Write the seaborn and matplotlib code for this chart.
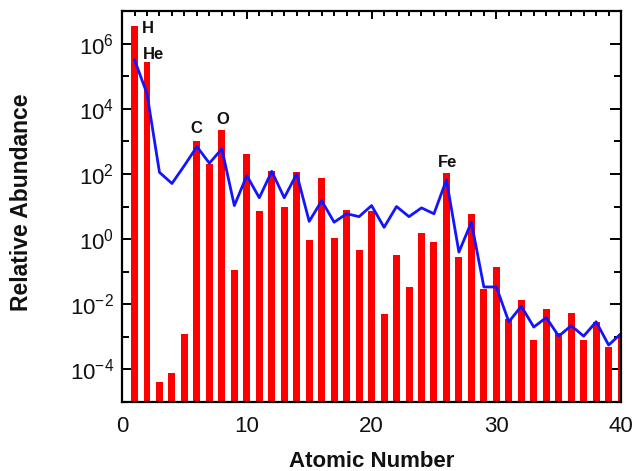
import matplotlib
matplotlib.use("Agg")
import matplotlib.pyplot as plt
import matplotlib.ticker as mticker
from matplotlib import font_manager
import seaborn as sns
import pandas as pd

# Atomic numbers
atomic_number = list(range(1, 41))

# Red bars: relative abundance
bar_abundance = [3.5e6, 2.8e5, 4.0e-5, 7.9e-5, 1.2e-3, 1.0e3, 2.0e2, 2.2e3, 0.115, 4.1e2,
                 7.2, 1.26e2, 9.5, 1.12e2, 0.95, 74, 1.1, 7.9, 0.45, 7.2,
                 5.0e-3, 0.33, 0.034, 1.5, 0.79, 105, 0.28, 5.8, 0.030, 0.138,
                 3.5e-3, 0.014, 7.9e-4, 7.4e-3, 1.35e-3, 5.5e-3, 7.9e-4, 2.9e-3, 4.9e-4, 1.26e-3]

# Blue line: relative abundance (second source)
line_abundance = [3.2e5, 2.9e4, 112, 51, 182, 690, 214, 590, 10.7, 89,
                  18.6, 120, 18.6, 100, 3.5, 15, 3.3, 6.0, 4.9, 10.7,
                  2.3, 10, 4.9, 9.1, 6.0, 66, 0.40, 3.3, 0.034, 0.034,
                  2.9e-3, 8.7e-3, 2.0e-3, 3.9e-3, 1.05e-3, 2.2e-3, 1.05e-3, 2.9e-3, 5.6e-4, 1.26e-3]

# Element labels
element_names = ["H", "He", "C", "O", "Fe"]
element_x = [1.62, 1.68, 5.95, 8.1, 26.06]
element_y = [3.0e6, 4.7e5, 2.45e3, 4.6e3, 2.3e2]
element_ha = ["left", "left", "center", "center", "center"]

y_tick_vals = [1e-4, 1e-2, 1e0, 1e2, 1e4, 1e6]
y_tick_labels = [r"$10^{-4}$", r"$10^{-2}$", r"$10^{0}$", r"$10^{2}$", r"$10^{4}$", r"$10^{6}$"]
x_tick_vals = [0, 10, 20, 30, 40]

df_bar = pd.DataFrame({"Z": atomic_number, "abund": bar_abundance})
df_line = pd.DataFrame({"Z": atomic_number, "abund": line_abundance})

sns.set_style("ticks")
plt.rcParams["font.family"] = ["Liberation Sans", "DejaVu Sans"]

available = {f.name for f in font_manager.fontManager.ttflist}
if "Liberation Sans Narrow" in available:
    tick_font = "Liberation Sans Narrow"
    tick_size = 19
else:
    tick_font = "Liberation Sans"
    tick_size = 16

plt.rcParams["mathtext.fontset"] = "custom"
plt.rcParams["mathtext.rm"] = tick_font
plt.rcParams["mathtext.it"] = tick_font + ":italic"
plt.rcParams["mathtext.bf"] = tick_font + ":bold"
plt.rcParams["text.color"] = "black"
plt.rcParams["axes.labelcolor"] = "black"

fig = plt.figure(figsize=(6.39, 4.71), dpi=100)
ax = fig.add_axes([0.191, 0.1465, 0.781, 0.830])

sns.barplot(data=df_bar, x="Z", y="abund", native_scale=True, color="#ff0000",
            saturation=1, width=0.56, edgecolor="none", linewidth=0, ax=ax, errorbar=None)
ax.set_yscale("log")
sns.lineplot(data=df_line, x="Z", y="abund", color="#1414ff", linewidth=2.0, ax=ax)

ax.set_xlim(0, 40)
ax.set_ylim(1e-5, 1e7)

ax.yaxis.set_major_locator(mticker.FixedLocator(y_tick_vals))
ax.yaxis.set_major_formatter(mticker.FixedFormatter(y_tick_labels))
ax.yaxis.set_minor_locator(mticker.FixedLocator([1e-5, 1e-3, 1e-1, 1e1, 1e3, 1e5, 1e7]))
ax.yaxis.set_minor_formatter(mticker.NullFormatter())
ax.xaxis.set_major_locator(mticker.FixedLocator(x_tick_vals))
ax.xaxis.set_minor_locator(mticker.MultipleLocator(1))

ax.tick_params(which="both", direction="in", top=True, right=True, width=1.4,
               color="black", labelcolor="#111111")
ax.tick_params(axis="y", which="major", length=8, labelsize=tick_size, pad=6)
ax.tick_params(axis="y", which="minor", length=5)
ax.tick_params(axis="x", which="major", length=6, labelsize=tick_size, pad=10)
ax.tick_params(axis="x", which="minor", length=3.5)
for lab in ax.get_xticklabels() + ax.get_yticklabels():
    lab.set_fontfamily(tick_font)

for s in ax.spines.values():
    s.set_visible(True)
    s.set_linewidth(1.6)
    s.set_color("black")

ax.set_xlabel("Atomic Number", fontsize=16, fontweight="bold", color="#111111")
ax.set_ylabel("Relative Abundance", fontsize=16.5, fontweight="bold", color="#111111")
ax.xaxis.set_label_coords(0.5, -0.125)
ax.yaxis.set_label_coords(-0.178, 0.51)

for name, xx, yy, ha in zip(element_names, element_x, element_y, element_ha):
    ax.text(xx, yy, name, ha=ha, va="center", fontsize=12, fontweight="bold", color="#111111")

fig.savefig("out.png", dpi=100)
